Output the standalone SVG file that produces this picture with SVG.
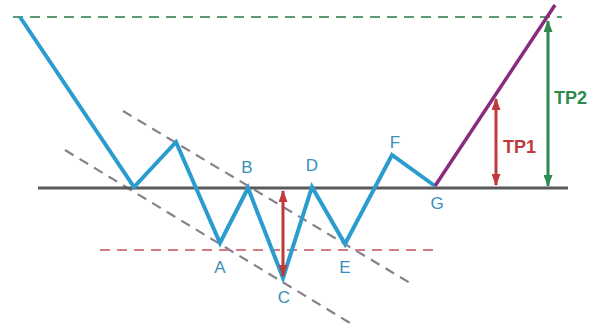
<svg xmlns="http://www.w3.org/2000/svg" width="602" height="326" viewBox="0 0 602 326">
<defs>
<style>
.lbl{font-family:"Liberation Sans",Arial,sans-serif;font-size:17px;fill:#3a8fb8;text-anchor:middle}
.tp{font-family:"Liberation Sans",Arial,sans-serif;font-size:18px;font-weight:bold}
.dash{fill:none;stroke-width:2.2;stroke-dasharray:10 7}
</style>
<marker id="ar" viewBox="0 0 12 9" refX="11" refY="4.5" markerWidth="4" markerHeight="3" orient="auto-start-reverse"><path d="M0,0 L12,4.5 L0,9 z" fill="#c0393b"/></marker>
<marker id="ag" viewBox="0 0 12 9" refX="11" refY="4.5" markerWidth="4" markerHeight="3" orient="auto-start-reverse"><path d="M0,0 L12,4.5 L0,9 z" fill="#2e8b4e"/></marker>
</defs>
<rect width="602" height="326" fill="#ffffff"/>
<g id="connectors">
<line class="dash" x1="13" y1="17" x2="562" y2="17" stroke="#5a9a70"/>
<line class="dash" x1="123" y1="111" x2="410" y2="283" stroke="#8a7f8f"/>
<line class="dash" x1="65" y1="150" x2="350" y2="323" stroke="#8a7f8f"/>
<line class="dash" x1="100" y1="250" x2="433" y2="250" stroke="#d27a85"/>
<line x1="38" y1="188" x2="568" y2="188" stroke="#5a5a5a" stroke-width="3"/>
<polyline points="20,17 134,187 176,142 220,243 248,188 283,278 312,187 345,244 392,155 435,186" fill="none" stroke="#2b9cce" stroke-width="4" stroke-linejoin="miter"/>
<line x1="435" y1="186" x2="555" y2="5" stroke="#8a2b7e" stroke-width="3.5"/>
<line x1="283" y1="191" x2="283" y2="276" stroke="#c0393b" stroke-width="3" marker-start="url(#ar)" marker-end="url(#ar)"/>
<line x1="496" y1="99" x2="496" y2="185" stroke="#c0393b" stroke-width="3" marker-start="url(#ar)" marker-end="url(#ar)"/>
<line x1="548" y1="21" x2="548" y2="186" stroke="#2e8b4e" stroke-width="3" marker-start="url(#ag)" marker-end="url(#ag)"/>
</g>
<g id="A"><text class="lbl" x="220" y="273">A</text></g>
<g id="B"><text class="lbl" x="247" y="173">B</text></g>
<g id="C"><text class="lbl" x="284" y="303">C</text></g>
<g id="D"><text class="lbl" x="312" y="171">D</text></g>
<g id="E"><text class="lbl" x="345" y="273">E</text></g>
<g id="F"><text class="lbl" x="395" y="148">F</text></g>
<g id="G"><text class="lbl" x="437" y="209">G</text></g>
<g id="TP1"><text class="tp" x="503" y="153" fill="#c0393b">TP1</text></g>
<g id="TP2"><text class="tp" x="554" y="104" fill="#2e8b4e">TP2</text></g>
</svg>
